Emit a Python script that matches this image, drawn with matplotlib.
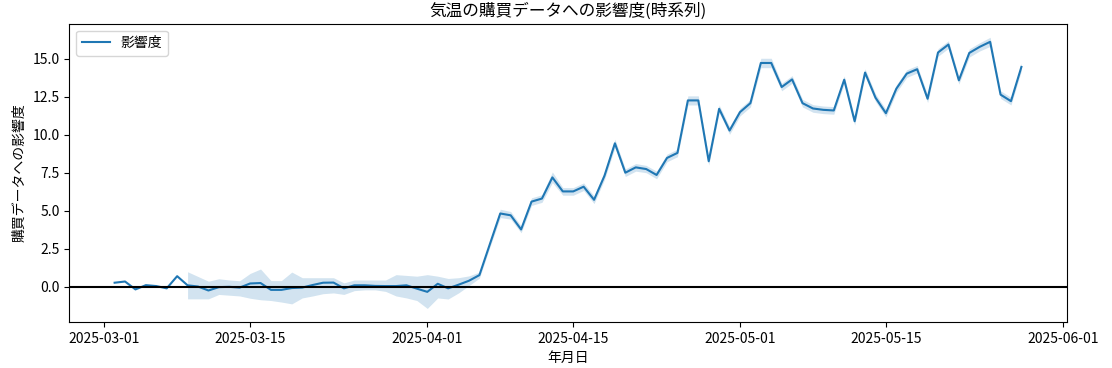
import matplotlib
matplotlib.use('Agg')
import matplotlib.pyplot as plt
import matplotlib.dates as mdates
import numpy as np
import pandas as pd

plt.rcParams['font.family'] = ['Noto Sans CJK JP', 'DejaVu Sans']
plt.rcParams['axes.unicode_minus'] = False

LINE_COLOR = '#1f77b4'

# daily dates, 2025-03-02 .. 2025-05-28
dates = pd.date_range('2025-03-02', '2025-05-28', freq='D')

# mean impact per day
impact = [
    0.27, 0.35, -0.17, 0.11, 0.05, -0.10, 0.70, 0.10, 0.02, -0.24,
    -0.02, 0.00, -0.05, 0.22, 0.25, -0.20, -0.20, -0.08, -0.05, 0.12,
    0.27, 0.28, -0.10, 0.10, 0.10, 0.06, 0.05, 0.05, 0.10, -0.12,
    -0.33, 0.20, -0.10, 0.14, 0.40, 0.77, 2.80, 4.82, 4.70, 3.77,
    5.60, 5.80, 7.19, 6.27, 6.27, 6.58, 5.72, 7.30, 9.43, 7.50,
    7.85, 7.74, 7.35, 8.47, 8.80, 12.25, 12.25, 8.25, 11.70, 10.27,
    11.48, 12.07, 14.71, 14.71, 13.13, 13.63, 12.07, 11.72, 11.63, 11.59,
    13.61, 10.88, 14.08, 12.43, 11.41, 13.02, 14.01, 14.30, 12.36, 15.40,
    15.92, 13.57, 15.37, 15.77, 16.10, 12.63, 12.20, 14.45,
]

# confidence band (NaN where only one sample -> no band)
nan = np.nan
band_low = [
    nan, nan, nan, nan, nan, nan, nan, -0.79, -0.79, -0.79,
    -0.50, -0.55, -0.60, -0.75, -0.85, -0.90, -1.00, -1.12, -0.73, -0.60,
    -0.45, -0.40, -0.50, -0.25, -0.20, -0.20, -0.30, -0.60, -0.73, -0.90,
    -1.42, -0.73, -0.80, -0.40, 0.08, 0.57, 2.60, 4.55, 4.45, 3.55,
    5.35, 5.55, 6.85, 6.02, 6.02, 6.33, 5.47, 7.05, 9.15, 7.25,
    7.60, 7.50, 7.10, 8.22, 8.55, 11.95, 11.95, 8.00, 11.45, 10.02,
    11.23, 11.82, 14.40, 14.40, 12.88, 13.38, 11.82, 11.47, 11.38, 11.34,
    13.36, 10.63, 13.83, 12.18, 11.16, 12.77, 13.76, 14.05, 12.11, 15.15,
    15.67, 13.32, 15.10, 15.50, 15.80, 12.38, 11.95, 14.20,
]
band_high = [
    nan, nan, nan, nan, nan, nan, nan, 0.99, 0.68, 0.37,
    0.53, 0.45, 0.40, 0.88, 1.17, 0.41, 0.41, 0.97, 0.60, 0.60,
    0.60, 0.60, 0.26, 0.45, 0.45, 0.45, 0.45, 0.80, 0.75, 0.70,
    0.80, 0.70, 0.55, 0.60, 0.72, 0.97, 3.00, 5.10, 4.95, 4.00,
    5.85, 6.05, 7.55, 6.52, 6.52, 6.83, 5.97, 7.55, 9.70, 7.75,
    8.10, 7.98, 7.60, 8.72, 9.05, 12.55, 12.55, 8.50, 11.95, 10.52,
    11.73, 12.32, 15.02, 15.02, 13.38, 13.88, 12.32, 11.97, 11.88, 11.84,
    13.86, 11.13, 14.33, 12.68, 11.66, 13.27, 14.26, 14.55, 12.61, 15.65,
    16.17, 13.82, 15.64, 16.04, 16.40, 12.88, 12.45, 14.70,
]

fig, ax = plt.subplots(figsize=(11.12, 3.68), dpi=100)
fig.subplots_adjust(left=0.0623, right=0.9593, top=0.9356, bottom=0.125)

ax.plot(dates, impact, color=LINE_COLOR, linewidth=1.5, label='影響度')
ax.fill_between(dates, band_low, band_high, color=LINE_COLOR, alpha=0.2, linewidth=0)
ax.axhline(0, color='black', linewidth=1.5)

ax.xaxis.set_major_locator(mdates.DayLocator(bymonthday=[1, 15]))
ax.xaxis.set_major_formatter(mdates.DateFormatter('%Y-%m-%d'))

ax.set_title('気温の購買データへの影響度(時系列)')
ax.set_xlabel('年月日')
ax.set_ylabel('購買データへの影響度')
ax.legend(loc='upper left')

plt.savefig('out.png', dpi=100)
plt.close()
